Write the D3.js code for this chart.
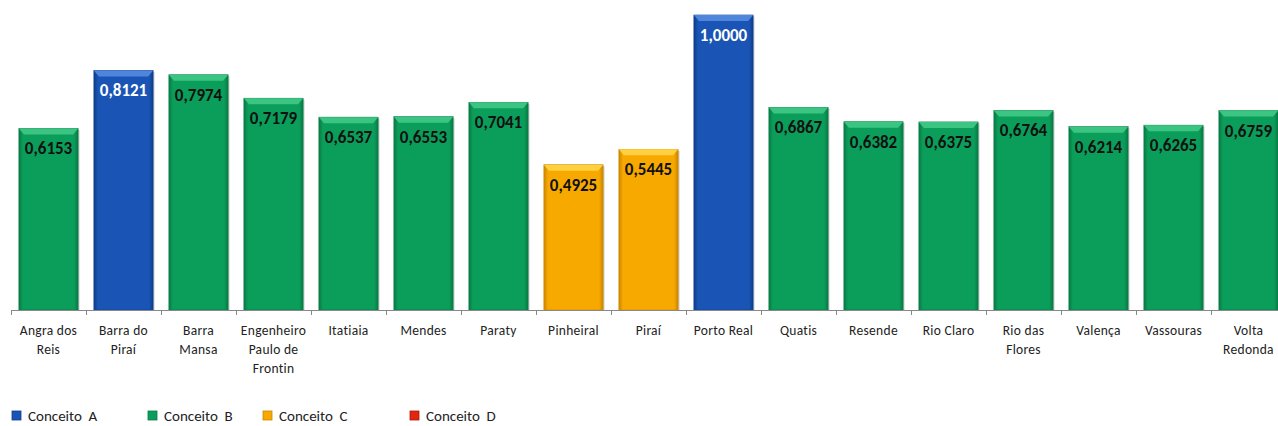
<!DOCTYPE html>
<html lang="pt">
<head>
<meta charset="UTF-8">
<title>Conceitos por município</title>
<script src="https://d3js.org/d3.v7.min.js"></script>
<style>
    body { margin: 0; background: #fff; }
    svg { font-family: Calibri, Carlito, "Liberation Sans Narrow", "Open Sans", sans-serif; }
    .tick-label { font-size: 13.5px; fill: #222; letter-spacing: 0.3px; }
    .value { font-size: 17px; font-weight: bold; }
    .legend text { font-size: 15px; fill: #222; }
</style>
</head>
<body>
<div id="chart"></div>
<script>
    const categories = ["Angra dos\nReis", "Barra do\nPiraí", "Barra\nMansa", "Engenheiro\nPaulo de\nFrontin",
        "Itatiaia", "Mendes", "Paraty", "Pinheiral", "Piraí", "Porto Real", "Quatis", "Resende",
        "Rio Claro", "Rio das\nFlores", "Valença", "Vassouras", "Volta\nRedonda"];
    const values = [0.6153, 0.8121, 0.7974, 0.7179, 0.6537, 0.6553, 0.7041, 0.4925, 0.5445, 1.0000,
        0.6867, 0.6382, 0.6375, 0.6764, 0.6214, 0.6265, 0.6759];
    const concepts = ["B", "A", "B", "B", "B", "B", "B", "C", "C", "A", "B", "B", "B", "B", "B", "B", "B"];
    const legendLabels = ["Conceito  A", "Conceito  B", "Conceito  C", "Conceito  D"];
    const conceptKeys = ["A", "B", "C", "D"];

    const colors = {A: "#1a55b5", B: "#0b9e5b", C: "#f8a900", D: "#e3260f"};
    const dark = {A: "#0d3c8a", B: "#077a44", C: "#c98700", D: "#a81a08"};
    const light = {A: "#4f86dc", B: "#3cc482", C: "#ffd040", D: "#f56a50"};

    const width = 1278, height = 426;
    const baseY = 310;

    const svg = d3.select("#chart").append("svg")
        .attr("width", width)
        .attr("height", height);

    const x = d3.scaleBand()
        .domain(d3.range(categories.length))
        .range([11, 11 + 75 * categories.length])
        .paddingInner(0.21)
        .paddingOuter(0.105);

    const y = d3.scaleLinear()
        .domain([0, 1])
        .range([baseY, 15]);

    const defs = svg.append("defs");
    conceptKeys.forEach(k => {
        const g = defs.append("linearGradient").attr("id", "grad" + k)
            .attr("x1", "0").attr("x2", "1").attr("y1", "0").attr("y2", "0");
        g.append("stop").attr("offset", "0").attr("stop-color", dark[k]);
        g.append("stop").attr("offset", "0.07").attr("stop-color", colors[k]);
        g.append("stop").attr("offset", "0.93").attr("stop-color", colors[k]);
        g.append("stop").attr("offset", "1").attr("stop-color", dark[k]);
    });

    const step = x.step();
    const bw = x.bandwidth();

    const bars = svg.selectAll(".bar")
        .data(values)
        .enter().append("g")
        .attr("class", "bar");

    // shadow
    bars.append("rect")
        .attr("x", (d, i) => x(i) + 1.5)
        .attr("y", d => y(d) + 1.5)
        .attr("width", bw)
        .attr("height", d => baseY - y(d) - 1.5)
        .attr("fill", "#bbb")
        .attr("opacity", 0.6);

    bars.append("rect")
        .attr("x", (d, i) => x(i))
        .attr("y", d => y(d))
        .attr("width", bw)
        .attr("height", d => baseY - y(d))
        .attr("fill", (d, i) => `url(#grad${concepts[i]})`)
        .attr("stroke", (d, i) => dark[concepts[i]])
        .attr("stroke-width", 0.6);

    // top bevel
    bars.append("path")
        .attr("d", (d, i) => {
            const x0 = x(i), x1 = x(i) + bw, t = y(d);
            return `M${x0},${t}L${x1},${t}L${x1 - 5},${t + 6}L${x0 + 5},${t + 6}Z`;
        })
        .attr("fill", (d, i) => light[concepts[i]]);

    bars.append("text")
        .attr("class", "value")
        .attr("x", (d, i) => x(i) + bw / 2)
        .attr("y", d => y(d) + 26)
        .attr("text-anchor", "middle")
        .attr("fill", (d, i) => concepts[i] === "A" ? "#fff" : "#111")
        .text(d => d.toFixed(4).replace(".", ","));

    // axis
    svg.append("line")
        .attr("x1", 11).attr("x2", width)
        .attr("y1", baseY + 0.5).attr("y2", baseY + 0.5)
        .attr("stroke", "#888");

    svg.selectAll(".tickmark")
        .data(d3.range(categories.length + 1))
        .enter().append("line")
        .attr("x1", i => Math.round(11 + i * step) + 0.5)
        .attr("x2", i => Math.round(11 + i * step) + 0.5)
        .attr("y1", baseY)
        .attr("y2", baseY + 5)
        .attr("stroke", "#888");

    const labels = svg.selectAll(".tick-label")
        .data(categories)
        .enter().append("text")
        .attr("class", "tick-label")
        .attr("text-anchor", "middle")
        .attr("x", (d, i) => x(i) + bw / 2)
        .attr("y", 335);

    labels.each(function (d) {
        const el = d3.select(this);
        d.split("\n").forEach((line, j) => {
            el.append("tspan")
                .attr("x", el.attr("x"))
                .attr("dy", j === 0 ? 0 : 19)
                .text(line);
        });
    });

    // legend
    const legendX = [12, 148, 263, 410];
    const legend = svg.selectAll(".legend")
        .data(conceptKeys)
        .enter().append("g")
        .attr("class", "legend")
        .attr("transform", (d, i) => `translate(${legendX[i]},411)`);

    legend.append("rect")
        .attr("width", 9).attr("height", 9)
        .attr("fill", d => colors[d])
        .attr("stroke", d => dark[d])
        .attr("stroke-width", 0.8);

    legend.append("text")
        .attr("x", 16)
        .attr("y", 10)
        .attr("xml:space", "preserve")
        .style("white-space", "pre")
        .text((d, i) => legendLabels[i]);
</script>
</body>
</html>
